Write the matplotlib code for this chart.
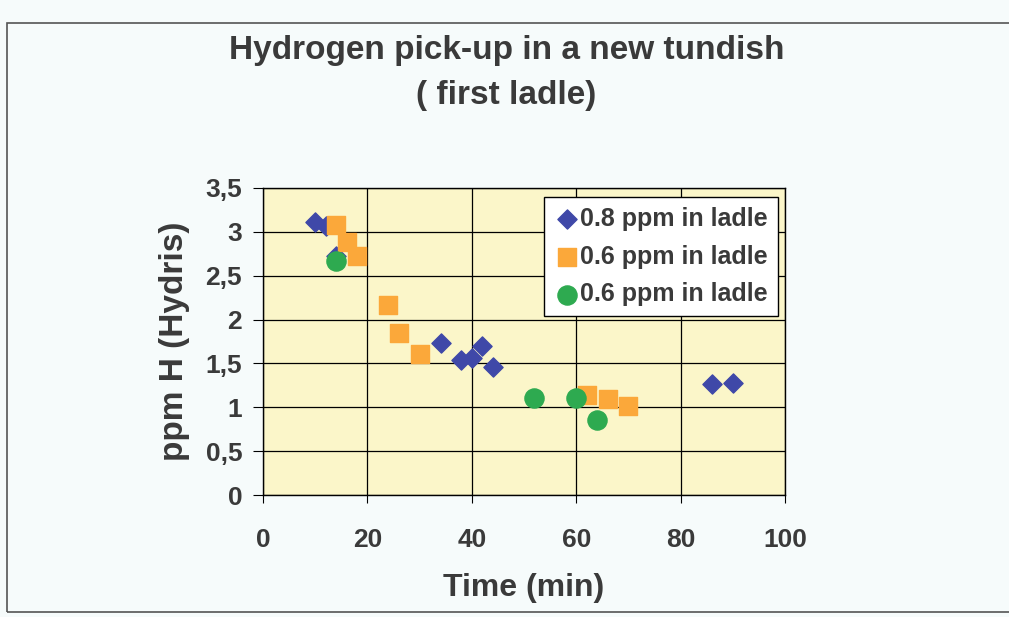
import matplotlib.pyplot as plt
from matplotlib.patches import Rectangle
from matplotlib.ticker import FuncFormatter

# data
t_08 = [10, 12, 14, 34, 38, 40, 42, 44, 86, 90]
h_08 = [3.11, 3.07, 2.72, 1.73, 1.54, 1.56, 1.70, 1.46, 1.26, 1.28]

t_06a = [14, 16, 18, 24, 26, 30, 62, 66, 70]
h_06a = [3.08, 2.88, 2.72, 2.17, 1.85, 1.61, 1.14, 1.09, 1.01]

t_06b = [14, 52, 60, 64]
h_06b = [2.67, 1.11, 1.11, 0.86]

labels = ["0.8 ppm in ladle", "0.6 ppm in ladle", "0.6 ppm in ladle"]
xticks = [0, 20, 40, 60, 80, 100]
yticks = [0, 0.5, 1, 1.5, 2, 2.5, 3, 3.5]

txt = "#3a3a3a"
plt.rcParams['font.family'] = ['Liberation Sans', 'DejaVu Sans']
plt.rcParams['font.weight'] = 'bold'
plt.rcParams['axes.labelweight'] = 'bold'

fig = plt.figure(figsize=(10.09, 6.17), dpi=100)
fig.patch.set_facecolor("#f6fbfb")
# outer chart frame
fig.patches.append(Rectangle((0.007, 0.008), 0.995, 0.955, transform=fig.transFigure,
                             fill=False, edgecolor="#555555", lw=1.2))

ax = fig.add_axes([0.2607, 0.1977, 0.5173, 0.4976])
ax.set_facecolor("#fbf6c9")

ax.scatter(t_08, h_08, marker="D", s=95, color="#3f48a8", label=labels[0], zorder=3)
ax.scatter(t_06a, h_06a, marker="s", s=150, color="#fba83a", label=labels[1], zorder=3)
ax.scatter(t_06b, h_06b, marker="o", s=190, color="#2eaa50", label=labels[2], zorder=4)

ax.set_xlim(0, 100)
ax.set_ylim(0, 3.5)
ax.set_xticks(xticks)
ax.set_yticks(yticks)
ax.yaxis.set_major_formatter(FuncFormatter(lambda v, p: ("%g" % v).replace(".", ",")))
ax.grid(True, color="black", lw=0.9)
ax.set_axisbelow(True)
for s in ax.spines.values():
    s.set_color("black")
    s.set_linewidth(1.0)
ax.tick_params(axis="x", direction="out", length=6, pad=18, labelsize=19, colors="black", labelcolor=txt)
ax.tick_params(axis="y", direction="out", length=7, pad=8, labelsize=19, colors="black", labelcolor=txt)

ax.set_xlabel("Time (min)", fontsize=23, color=txt, labelpad=15)
ax.set_ylabel("ppm H (Hydris)", fontsize=24, color=txt, labelpad=11)

fig.text(0.502, 0.918, "Hydrogen pick-up in a new tundish", ha="center", va="center",
         fontsize=24, color=txt)
fig.text(0.502, 0.846, "( first ladle)", ha="center", va="center", fontsize=24, color=txt)

leg = ax.legend(loc="upper right", bbox_to_anchor=(0.771, 0.681), bbox_transform=fig.transFigure,
                fontsize=18, frameon=True, fancybox=False, framealpha=1, edgecolor="black",
                handletextpad=0.05, handlelength=1.0, borderpad=0.4, labelspacing=0.55,
                borderaxespad=0)
for t in leg.get_texts():
    t.set_color(txt)
leg.get_frame().set_linewidth(1.0)

fig.savefig("out.png", dpi=100, facecolor=fig.get_facecolor())
